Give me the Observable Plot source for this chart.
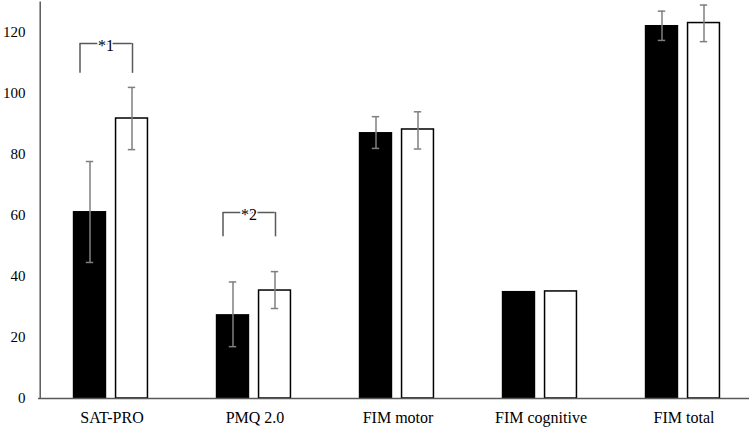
<!DOCTYPE html>
<html>
<head>
<meta charset="utf-8">
<script src="https://cdn.jsdelivr.net/npm/d3@7"></script>
<script src="https://cdn.jsdelivr.net/npm/@observablehq/plot@0.6"></script>
<style>
  html, body { margin: 0; padding: 0; background: #fff; }
  #chart svg { display: block; }
  #chart svg text { font-family: "Times New Roman", Times, "Liberation Serif", Tinos, "Noto Serif", "DejaVu Serif", serif !important; }
</style>
</head>
<body>
<div id="chart"></div>
<script>
// Data
const categories = ["SAT-PRO", "PMQ 2.0", "FIM motor", "FIM cognitive", "FIM total"];
const blackMeans = [61.3, 27.5, 87.2, 35.1, 122.3];
const blackLow   = [44.6, 17.0, 82.0, null, 117.4];
const blackHigh  = [77.7, 38.2, 92.4, null, 127.0];
const whiteMeans = [91.8, 35.4, 88.2, 35.1, 123.1];
const whiteLow   = [81.6, 29.5, 81.8, null, 117.0];
const whiteHigh  = [102.0, 41.6, 94.0, null, 129.0];
const yTicks = [0, 20, 40, 60, 80, 100, 120];
const bracketCats   = ["SAT-PRO", "PMQ 2.0"];
const bracketTop    = [116.4, 61.0];
const bracketBottom = [106.6, 53.0];
const bracketLabels = ["*1", "*2"];

const black = categories.map((c, i) => ({cat: c, v: blackMeans[i], lo: blackLow[i], hi: blackHigh[i]}));
const white = categories.map((c, i) => ({cat: c, v: whiteMeans[i], lo: whiteLow[i], hi: whiteHigh[i]}));
const blackErr = black.filter(d => d.lo != null);
const whiteErr = white.filter(d => d.lo != null);
const brackets = bracketCats.map((c, i) => ({cat: c, top: bracketTop[i], bottom: bracketBottom[i], label: bracketLabels[i]}));

const FONT = "Times New Roman, Times, Liberation Serif, serif";
const BW = 143.6; // band width in px
const barW = 34;
const bOff = -22, wOff = 20; // offsets of bar centers from band center
const inset = (off, w) => ({insetLeft: BW/2 + off - w/2, insetRight: BW/2 - off - w/2});
const errColor = "#7f7f7f";
const brColor = "#595959";

const chart = Plot.plot({
  width: 749,
  height: 427,
  marginLeft: 38,
  marginRight: 0,
  marginTop: 1.5,
  marginBottom: 29,
  style: {fontSize: "15px", color: "#000", background: "#fff"},
  x: {domain: categories, range: [38, 38 + BW * 5], padding: 0, label: null, axis: null},
  y: {domain: [0, 130], label: null, axis: null},
  marks: [
    Plot.axisX({tickSize: 0, tickPadding: 13, fontSize: 16, fontFamily: FONT, fill: "#000", label: null}),
    Plot.axisY(yTicks, {tickSize: 0, tickPadding: 13, fontSize: 15, fontFamily: FONT, fill: "#000", label: null}),
    Plot.barY(black, {x: "cat", y: "v", fill: "#000", ...inset(bOff, barW)}),
    Plot.barY(white, {x: "cat", y: "v", fill: "#fff", stroke: "#000", strokeWidth: 1.5, ...inset(wOff, barW - 1.5)}),
    // error bars
    Plot.ruleX(blackErr, {x: "cat", y1: "lo", y2: "hi", dx: bOff, stroke: errColor, strokeWidth: 1.5}),
    Plot.tickY(blackErr, {x: "cat", y: "lo", stroke: errColor, strokeWidth: 1.5, ...inset(bOff, 8)}),
    Plot.tickY(blackErr, {x: "cat", y: "hi", stroke: errColor, strokeWidth: 1.5, ...inset(bOff, 8)}),
    Plot.ruleX(whiteErr, {x: "cat", y1: "lo", y2: "hi", dx: wOff, stroke: errColor, strokeWidth: 1.5}),
    Plot.tickY(whiteErr, {x: "cat", y: "lo", stroke: errColor, strokeWidth: 1.5, ...inset(wOff, 8)}),
    Plot.tickY(whiteErr, {x: "cat", y: "hi", stroke: errColor, strokeWidth: 1.5, ...inset(wOff, 8)}),
    // significance brackets
    Plot.ruleX(brackets, {x: "cat", y1: "bottom", y2: "top", dx: -32, stroke: brColor, strokeWidth: 1.5}),
    Plot.ruleX(brackets, {x: "cat", y1: "bottom", y2: "top", dx: 20.5, stroke: brColor, strokeWidth: 1.5}),
    Plot.tickY(brackets, {x: "cat", y: "top", stroke: brColor, strokeWidth: 1.5, insetLeft: BW/2 - 32, insetRight: BW/2 - 20.5}),
    Plot.text(brackets, {x: "cat", y: "top", text: "label", dx: -6, dy: 2, fill: "#000", stroke: "#fff", strokeWidth: 3, fontSize: 16, fontFamily: FONT}),
    // axis lines
    Plot.ruleY([0], {stroke: "#595959", strokeWidth: 1.5}),
    Plot.ruleX([categories[0]], {y1: 0, y2: 130, dx: -BW/2, stroke: "#595959", strokeWidth: 1.5})
  ]
});
document.getElementById("chart").appendChild(chart);
</script>
</body>
</html>
